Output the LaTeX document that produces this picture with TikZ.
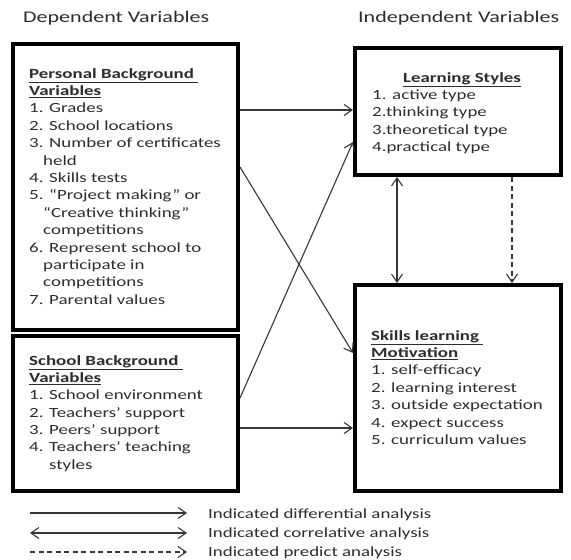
\documentclass[tikz,border=0pt]{standalone}
\usepackage{fontspec}
\setmainfont{Carlito}[FakeStretch=1.35]
\usetikzlibrary{arrows.meta}
\definecolor{txt}{RGB}{45,45,45}
\definecolor{ink}{RGB}{55,55,55}
\newcommand{\ttl}[1]{\textbf{\underline{#1}}}
\begin{document}
\begin{tikzpicture}[x=1pt,y=-1pt,
  box/.style={draw=black,line width=4pt,fill=white,rectangle,inner sep=0pt},
  ln/.style={anchor=base west,inner sep=0pt,text=txt,font=\fontsize{14}{17}\selectfont},
  hdr/.style={anchor=base west,inner sep=0pt,text=txt,font=\fontsize{16.3}{19}\selectfont},
  arr/.style={draw=ink,line width=1.1pt,-{Straight Barb[length=8pt,width=11pt]}},
  darr/.style={draw=ink,line width=1.1pt,{Straight Barb[length=8pt,width=11pt]}-{Straight Barb[length=8pt,width=11pt]}},
  dsh/.style={draw=ink,line width=1.1pt,dash pattern=on 5pt off 3.5pt,-{Straight Barb[length=8pt,width=11pt]}}]
\useasboundingbox[fill=white] (0,0) rectangle (571,560);

% headers
\node[hdr] (hdep) at (23,22.7) {Dependent Variables};
\node[hdr] (hind) at (358,22.7) {Independent Variables};

% boxes
\node[box,minimum width=225.5pt,minimum height=286.5pt] (pers) at (125.25,186.75) {};
\node[box,minimum width=225.5pt,minimum height=155.5pt] (sch) at (125.25,413.25) {};
\node[box,minimum width=206pt,minimum height=127pt] (ls) at (458,111.5) {};
\node[box,minimum width=206pt,minimum height=206pt] (sk) at (458,388) {};

% personal background text
\foreach \dx/\t [count=\i] in {0/{\ttl{Personal Background\ }},0/{\ttl{Variables}},
  0/{1. Grades},0/{2. School locations},0/{3. Number of certificates},14/{held},
  0/{4. Skills tests},0/{5. “Project making” or},14/{“Creative thinking”},
  14/{competitions},0/{6. Represent school to},14/{participate in},
  14/{competitions},0/{7. Parental values}}
  \node[ln] (pt\i) at ({29+\dx},{78+17.4*(\i-1)}) {\t};

% school background text
\foreach \dx/\t [count=\i] in {0/{\ttl{School Background\ }},0/{\ttl{Variables}},
  0/{1. School environment},0/{2. Teachers’ support},0/{3. Peers’ support},
  0/{4. Teachers’ teaching},20/{styles}}
  \node[ln] (st\i) at ({29+\dx},{365+17.35*(\i-1)}) {\t};

% learning styles text
\node[ln,anchor=base] (lt0) at (462,82) {\ttl{Learning Styles}};
\foreach \t [count=\i] in {{1. active type},{2.thinking type},{3.theoretical type},{4.practical type}}
  \node[ln] (lt\i) at (372,{82+17.4*\i}) {\t};

% skills learning motivation text
\foreach \t [count=\i] in {{\ttl{Skills learning\ }},{\ttl{Motivation}},{1. self-efficacy},
  {2. learning interest},{3. outside expectation},{4. expect success},{5. curriculum values}}
  \node[ln] (kt\i) at (371,{340+17.4*(\i-1)}) {\t};

% connectors
\draw[arr] (pers.east |- 0,110) -- (ls.west |- 0,110);
\draw[arr] (pers.east |- 0,167) -- (sk.west |- 0,353);
\draw[arr] (sch.east |- 0,398) -- (ls.west |- 0,142);
\draw[arr] (sch.east |- 0,428) -- (sk.west |- 0,428);
\draw[darr] (ls.south -| 397,0) -- (sk.north -| 397,0);
\draw[dsh] (ls.south -| 512,0) -- (sk.north -| 512,0);

% legend
\coordinate (l1a) at (30,513); \coordinate (l1b) at (187,513);
\coordinate (l2a) at (30,533); \coordinate (l2b) at (187,533);
\coordinate (l3a) at (30,552); \coordinate (l3b) at (187,552);
\draw[arr] (l1a) -- (l1b);
\draw[darr] (l2a) -- (l2b);
\draw[dsh] (l3a) -- (l3b);
\node[ln] (g1) at (208,518) {Indicated differential analysis};
\node[ln] (g2) at (208,537) {Indicated correlative analysis};
\node[ln] (g3) at (208,556) {Indicated predict analysis};
\end{tikzpicture}
\end{document}
